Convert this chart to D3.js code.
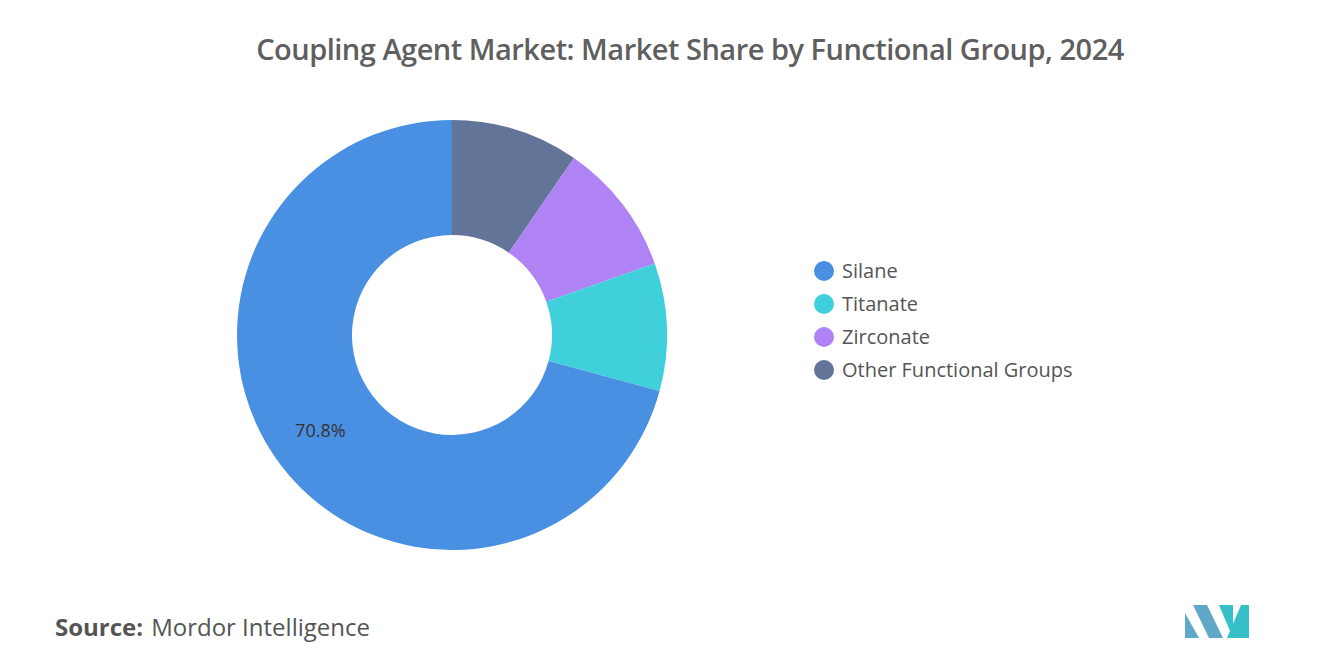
<!DOCTYPE html><html><head><meta charset="utf-8"><script src="https://cdn.jsdelivr.net/npm/d3@7"></script>
<style>body{margin:0;background:#fff}text{font-family:"Open Sans",sans-serif}</style></head><body>
<svg id="c" width="1320" height="665"></svg>
<script>
const categories=["Silane","Titanate","Zirconate","Other Functional Groups"];
const values=[70.8,9.6,10.0,9.6];
const colors=["#4a90e2","#40d0dc","#b083f5","#627598"];
const svg=d3.select("#c");
svg.append("text").attr("x",690).attr("y",60).attr("text-anchor","middle").attr("font-size",29).attr("font-weight",600).attr("fill","#5f5f5f").attr("letter-spacing",-0.5).text("Coupling Agent Market: Market Share by Functional Group, 2024");
const cx=452,cy=335,R=215,r=100;
const drawOrder=[3,2,1,0];
const pie=d3.pie().sort(null).value(i=>values[i]);
const arcs=pie(drawOrder);
const arc=d3.arc().innerRadius(r).outerRadius(R);
const g=svg.append("g").attr("transform",`translate(${cx},${cy})`);
g.selectAll("path").data(arcs).join("path").attr("d",arc).attr("fill",d=>colors[d.data]);
const s=arcs.find(d=>d.data===0);
const lab=d3.arc().innerRadius(157).outerRadius(157).centroid(s);
g.append("text").attr("x",lab[0]-7).attr("y",lab[1]).attr("text-anchor","middle").attr("dy","0.35em").attr("font-size",18).attr("fill","#333").text(values[0].toFixed(1)+"%");
const lg=svg.append("g");
categories.forEach((c,i)=>{const y=271+i*33;
lg.append("circle").attr("cx",824).attr("cy",y).attr("r",10).attr("fill",colors[i]);
lg.append("text").attr("x",842).attr("y",y).attr("dy","0.35em").attr("font-size",20).attr("fill","#555").text(c);});
svg.append("text").attr("x",55).attr("y",636).attr("font-size",24).attr("fill","#555").html('<tspan font-weight="700">Source:</tspan><tspan dx="8">Mordor Intelligence</tspan>');
const lo=svg.append("g").attr("transform","translate(1185,605)");
lo.append("path").attr("d","M0,33 L0,8 L14,33 Z M8,0 L22,0 L38,33 L24,33 Z").attr("fill","#5fa8c8");
lo.append("path").attr("d","M34,0 L48,0 L48,33 Z M42,33 L56,0 L64,0 L64,33 Z").attr("fill","#38c0c8");
</script></body></html>
